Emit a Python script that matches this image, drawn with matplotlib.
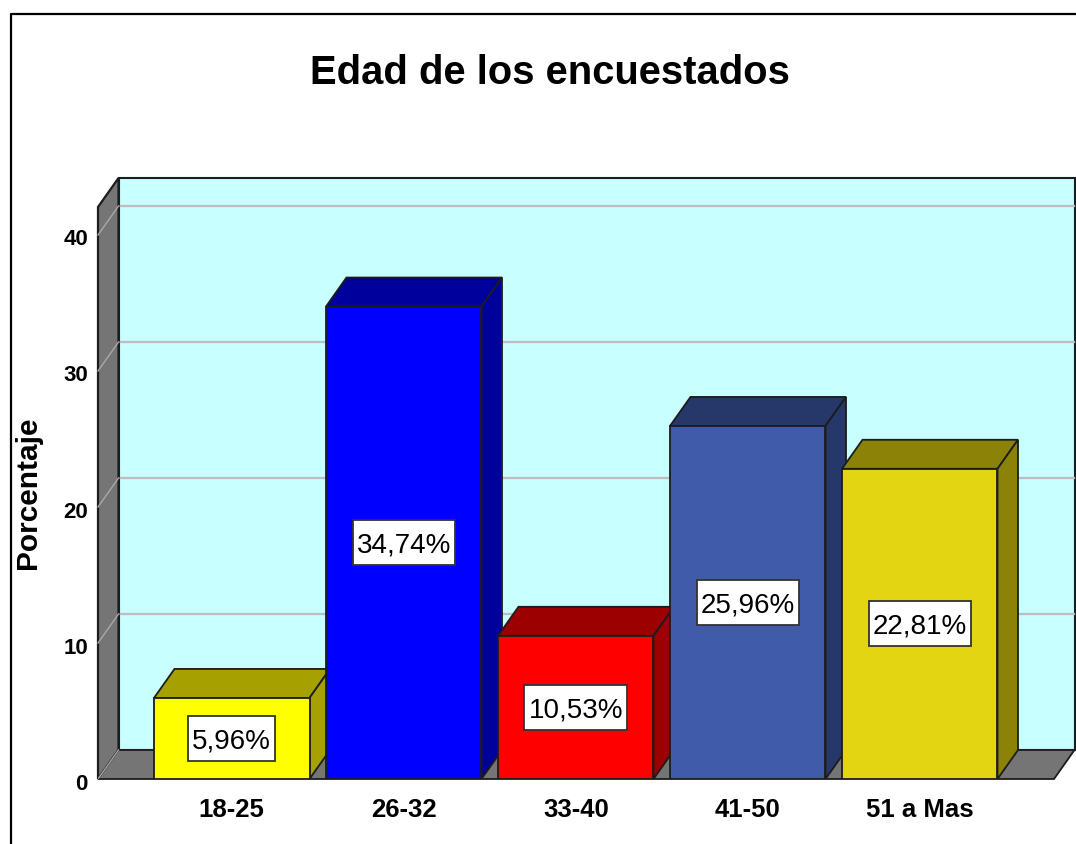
import matplotlib
matplotlib.use("Agg")
import matplotlib.pyplot as plt
from matplotlib.patches import Polygon, Rectangle

categories = ['18-25', '26-32', '33-40', '41-50', '51 a Mas']
values = [5.96, 34.74, 10.53, 25.96, 22.81]
labels = ['5,96%', '34,74%', '10,53%', '25,96%', '22,81%']
front_colors = ['#ffff00', '#0000ff', '#ff0000', '#3f5ba9', '#e3d512']
top_colors = ['#a6a000', '#00009c', '#9c0000', '#26386a', '#8c8208']
yticks = [0, 10, 20, 30, 40]

W, H = 1076, 845
EDGE = '#1c1c1c'
plt.rcParams['font.family'] = ['Liberation Sans', 'DejaVu Sans']
fig = plt.figure(figsize=(W / 100, H / 100), dpi=100)
fig.patch.set_facecolor('white')

# axes in bar units: x is pixels across, y is percentage
L, R, T, B = 98, 1054, 208, 780
ax = fig.add_axes([L / W, 1 - B / H, (R - L) / W, (B - T) / H])
ax.set_xlim(L, R)
y_per_px = 10 / 136
ax.set_ylim(0, (B - T) * y_per_px)
ax.patch.set_alpha(0)
for s in ax.spines.values():
    s.set_visible(False)

dx = 20.5
dy = 29 * y_per_px
ymax = ax.get_ylim()[1]
x_right = R + dx

# walls and floor
ax.add_patch(Rectangle((L + dx, dy), x_right - L - dx, ymax, fc='#c8ffff', ec=EDGE, lw=1.5, zorder=1, clip_on=False))
ax.add_patch(Polygon([(L, 0), (L + dx, dy), (L + dx, ymax + dy), (L, ymax)], fc='#757575', ec=EDGE, lw=1.6, zorder=2, clip_on=False))
ax.add_patch(Polygon([(L, 0), (L + dx, dy), (x_right, dy), (R, 0)], fc='#757575', ec=EDGE, lw=1.3, zorder=2, clip_on=False))

# gridlines on the side and back walls
for t in yticks[1:]:
    ax.plot([L + dx, x_right], [t + dy, t + dy], color='#bdbdbd', lw=1.6, zorder=1.5, clip_on=False)
    ax.plot([L, L + dx], [t, t + dy], color='#a8a8a8', lw=1.0, zorder=2.5, clip_on=False)
ax.plot([L, L + dx], [0, dy], color='#a8a8a8', lw=1.0, zorder=2.5)

# bars
bar_w = 155.5
lefts = [154, 326, 498, 670, 842]
texts = []
for x0, v, lab, fc, tc in zip(lefts, values, labels, front_colors, top_colors):
    ax.add_patch(Polygon([(x0, v), (x0 + dx, v + dy), (x0 + bar_w + dx, v + dy), (x0 + bar_w, v)], fc=tc, ec=EDGE, lw=1.3, zorder=3))
    ax.add_patch(Polygon([(x0 + bar_w, 0), (x0 + bar_w + dx, dy), (x0 + bar_w + dx, v + dy), (x0 + bar_w, v)], fc=tc, ec=EDGE, lw=1.3, zorder=3))
    ax.add_patch(Rectangle((x0, 0), bar_w, v, fc=fc, ec=EDGE, lw=1.3, zorder=4))
    texts.append(ax.text(x0 + bar_w / 2, v / 2, lab, ha='center', va='center', fontsize=20, color='black', zorder=6))

# white boxes behind the value labels, sized from the rendered text
renderer = fig.canvas.get_renderer()
for t in texts:
    box = t.get_window_extent(renderer)
    xc, yc = t.get_position()
    bw = box.width + 8
    bh = 45 * y_per_px
    ax.add_patch(Rectangle((xc - bw / 2, yc - bh / 2), bw, bh, fc='white', ec='#333333', lw=1.3, zorder=5))
    t.set_y(yc - 2 * y_per_px)

ax.set_xticks([x + bar_w / 2 for x in lefts], categories)
ax.set_yticks([])
ax.tick_params(axis='x', length=0, pad=13, labelsize=18.5)
for lab in ax.get_xticklabels():
    lab.set_fontweight('bold')

# y labels sit a little below their gridline position
for t in yticks:
    ax.annotate(str(t), (L, t), xytext=(-10, -4), textcoords='offset pixels', ha='right', va='center',
                fontsize=16, fontweight='bold')

fig.text(28 / W, 1 - 493 / H, 'Porcentaje', rotation=90, ha='center', va='center', fontsize=21.5, fontweight='bold')
fig.text(550 / W, 1 - 73 / H, 'Edad de los encuestados', ha='center', va='center', fontsize=28.8, fontweight='bold')

# outer frame of the picture
fig.add_artist(plt.Line2D([10.5 / W, 10.5 / W, 1], [0, 1 - 15 / H, 1 - 15 / H], color='black', lw=1.6))

fig.savefig('out.png', dpi=100)
